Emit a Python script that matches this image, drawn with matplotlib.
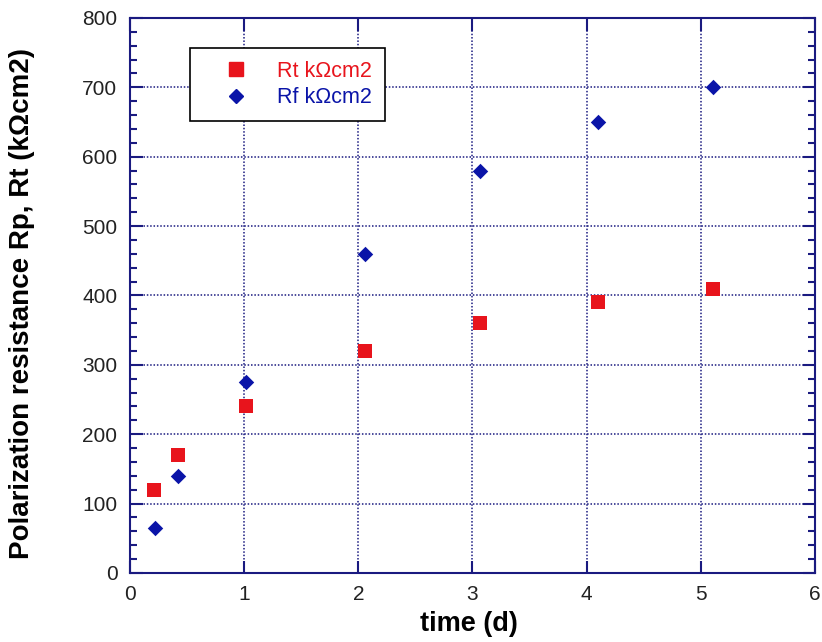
import matplotlib
matplotlib.use("Agg")
import matplotlib.pyplot as plt
from matplotlib.ticker import MultipleLocator
from matplotlib.lines import Line2D

plt.rcParams['font.family'] = ['Liberation Sans', 'DejaVu Sans']

time_rt = [0.21, 0.42, 1.02, 2.06, 3.07, 4.10, 5.11]
rt_vals = [120, 170, 240, 320, 360, 390, 410]
time_rf = [0.22, 0.42, 1.02, 2.06, 3.07, 4.10, 5.11]
rf_vals = [65, 140, 275, 460, 580, 650, 700]

navy = '#1a1a80'
red = '#e8141c'
blue = '#0a14a8'
fig = plt.figure(figsize=(8.22, 6.42), dpi=100)
ax = fig.add_axes([0.158, 0.1075, 0.8335, 0.8645])

ax.scatter(time_rt, rt_vals, marker='s', s=105, color=red, zorder=3, linewidths=0)
ax.scatter(time_rf, rf_vals, marker='D', s=62, color=blue, zorder=3, linewidths=0)

ax.set_xlim(0, 6)
ax.set_ylim(0, 800)
ax.xaxis.set_major_locator(MultipleLocator(1))
ax.yaxis.set_major_locator(MultipleLocator(100))
ax.yaxis.set_minor_locator(MultipleLocator(20))
ax.grid(True, which='major', linestyle=(0, (1, 1.2)), color=navy, linewidth=1.1)
for s in ax.spines.values():
    s.set_color(navy)
    s.set_linewidth(1.5)
ax.tick_params(which='both', direction='in', top=True, right=True, color=navy, labelsize=15, labelcolor='#222222')
ax.tick_params(which='major', length=9, width=1.5, pad=9)
ax.tick_params(which='minor', length=5, width=1.5)
ax.tick_params(axis='x', which='minor', length=0)

ax.set_xlabel('time (d)', fontsize=19.5, fontweight='bold')
ax.set_ylabel('Polarization resistance Rp, Rt (kΩcm2)', fontsize=20, fontweight='bold')
ax.xaxis.set_label_coords(0.495, -0.068)
ax.yaxis.set_label_coords(-0.138, 0.485)

handles = [Line2D([], [], marker='s', linestyle='none', color=red, markersize=10),
           Line2D([], [], marker='D', linestyle='none', color=blue, markersize=7.5)]
leg = ax.legend(handles, ['Rt kΩcm2', 'Rf kΩcm2'], loc='upper left', bbox_to_anchor=(0.0876, 0.946),
                borderaxespad=0, fontsize=15.5, frameon=True, fancybox=False, edgecolor='black', framealpha=1,
                handletextpad=0.35, borderpad=0.6, labelspacing=0.25, handlelength=3.1)
leg.get_frame().set_linewidth(1.2)
leg.texts[0].set_color(red)
leg.texts[1].set_color(blue)

fig.savefig('out.png', dpi=100)
